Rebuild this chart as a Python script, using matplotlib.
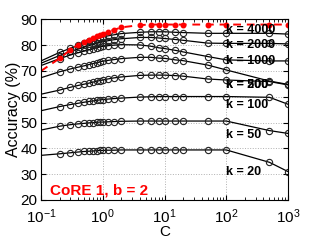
import numpy as np
import matplotlib
matplotlib.use('Agg')
import matplotlib.pyplot as plt

plt.rcParams['font.family'] = ['Liberation Sans', 'DejaVu Sans']
plt.rcParams['mathtext.default'] = 'regular'

# C values (first point only carries the line in from the left edge)
C = [0.1, 0.2, 0.3, 0.4, 0.5, 0.6, 0.7, 0.8, 0.9, 1, 1.2, 1.5, 2, 4, 6, 8,
     10, 15, 20, 50, 100, 500, 1000]

acc_red = [70.0, 74.9, 78.2, 80.2, 81.2, 82.0, 82.8, 83.5, 84.0, 84.4, 85.2, 85.9,
           86.9, 87.8, 88.0, 88.0, 88.0, 88.0, 88.0, 88.0, 88.0, 88.0, 88.0]
acc_4000 = [73.9, 77.2, 78.8, 80.0, 80.8, 81.5, 82.0, 82.5, 82.9, 83.2, 83.6, 84.0,
            84.5, 85.0, 85.2, 85.2, 85.2, 85.0, 84.9, 84.6, 84.6, 84.6, 84.3]
acc_2000 = [73.0, 76.0, 77.6, 78.5, 79.2, 79.8, 80.3, 80.7, 81.0, 81.3, 81.7, 82.1,
            82.5, 83.0, 83.0, 82.8, 82.6, 82.2, 81.9, 80.8, 80.7, 80.7, 80.5]
acc_1000 = [72.1, 74.8, 76.2, 77.1, 77.7, 78.2, 78.6, 79.0, 79.3, 79.5, 79.8, 80.0,
            80.2, 80.1, 79.6, 79.0, 78.7, 78.0, 77.4, 75.6, 74.3, 73.9, 73.9]
acc_500 = [67.4, 69.7, 70.8, 71.5, 72.0, 72.5, 72.9, 73.2, 73.5, 73.8, 74.1, 74.4,
           74.8, 75.3, 75.3, 75.0, 74.9, 74.3, 74.0, 72.3, 70.4, 66.1, 64.8]
acc_200 = [61.0, 62.6, 63.7, 64.4, 64.9, 65.3, 65.7, 66.0, 66.3, 66.5, 66.9, 67.3,
           67.7, 68.3, 68.4, 68.4, 68.4, 68.2, 68.0, 66.9, 66.5, 65.9, 64.6]
acc_100 = [54.6, 56.2, 57.0, 57.5, 57.9, 58.2, 58.4, 58.6, 58.8, 58.9, 59.1, 59.3,
           59.5, 59.9, 60.0, 60.1, 60.1, 60.1, 60.1, 60.1, 60.1, 59.8, 57.1]
acc_50 = [47.1, 48.6, 49.2, 49.5, 49.7, 49.9, 50.0, 50.1, 50.2, 50.2, 50.3, 50.4,
          50.5, 50.6, 50.6, 50.6, 50.6, 50.6, 50.6, 50.6, 50.6, 46.9, 45.8]
acc_20 = [37.3, 37.9, 38.3, 38.6, 38.8, 38.9, 39.0, 39.1, 39.2, 39.2, 39.3, 39.3,
          39.4, 39.4, 39.4, 39.4, 39.4, 39.4, 39.4, 39.4, 39.4, 34.6, 31.0]

k_labels = ['k = 4000', 'k = 2000', 'k = 1000', 'k = 500', 'k = 200', 'k = 100', 'k = 50', 'k = 20']
k_series = [acc_4000, acc_2000, acc_1000, acc_500, acc_200, acc_100, acc_50, acc_20]
k_label_y = [85.9, 80.1, 73.9, 64.6, 64.6, 56.8, 45.2, 30.7]

fig = plt.figure(figsize=(3.19, 2.4), dpi=100)
ax = fig.add_axes([0.1285, 0.1667, 0.7745, 0.7525])

marks = list(range(1, len(C)))
for acc in k_series:
    ax.plot(C, acc, color='black', lw=0.9, marker='o', ms=4.5, mfc='none',
            mec='#222222', mew=0.8, markevery=marks)
ax.plot(C, acc_red, color='red', lw=1.4, ls=(0, (4, 3)), marker='.', ms=6.5,
        markevery=marks)

for lab, ly in zip(k_labels, k_label_y):
    ax.text(100, ly, lab, fontsize=9, fontweight='bold', ha='left', va='center')

ax.text(0.14, 23.8, 'CoRE 1, b = 2', color='red', fontsize=11, fontweight='bold',
        ha='left', va='center')

ax.set_xscale('log')
ax.set_xlim(0.1, 1000)
ax.set_ylim(20, 90)
ax.set_yticks(range(20, 91, 10))
ax.set_xticks([0.1, 1, 10, 100, 1000])
ax.grid(True, which='major', ls=':', color='#b0b0b0', lw=0.7)
ax.tick_params(which='both', direction='in', top=True, right=True, labelsize=11)
ax.tick_params(axis='x', pad=5)
ax.tick_params(axis='y', pad=2.5)
ax.tick_params(which='major', length=3.5)
ax.tick_params(which='minor', length=2)
for s in ax.spines.values():
    s.set_linewidth(0.8)
ax.set_xlabel('C', fontsize=11, labelpad=-0.3)
ax.set_ylabel('Accuracy (%)', fontsize=11.5, labelpad=0)

fig.savefig('out.png', dpi=100)
